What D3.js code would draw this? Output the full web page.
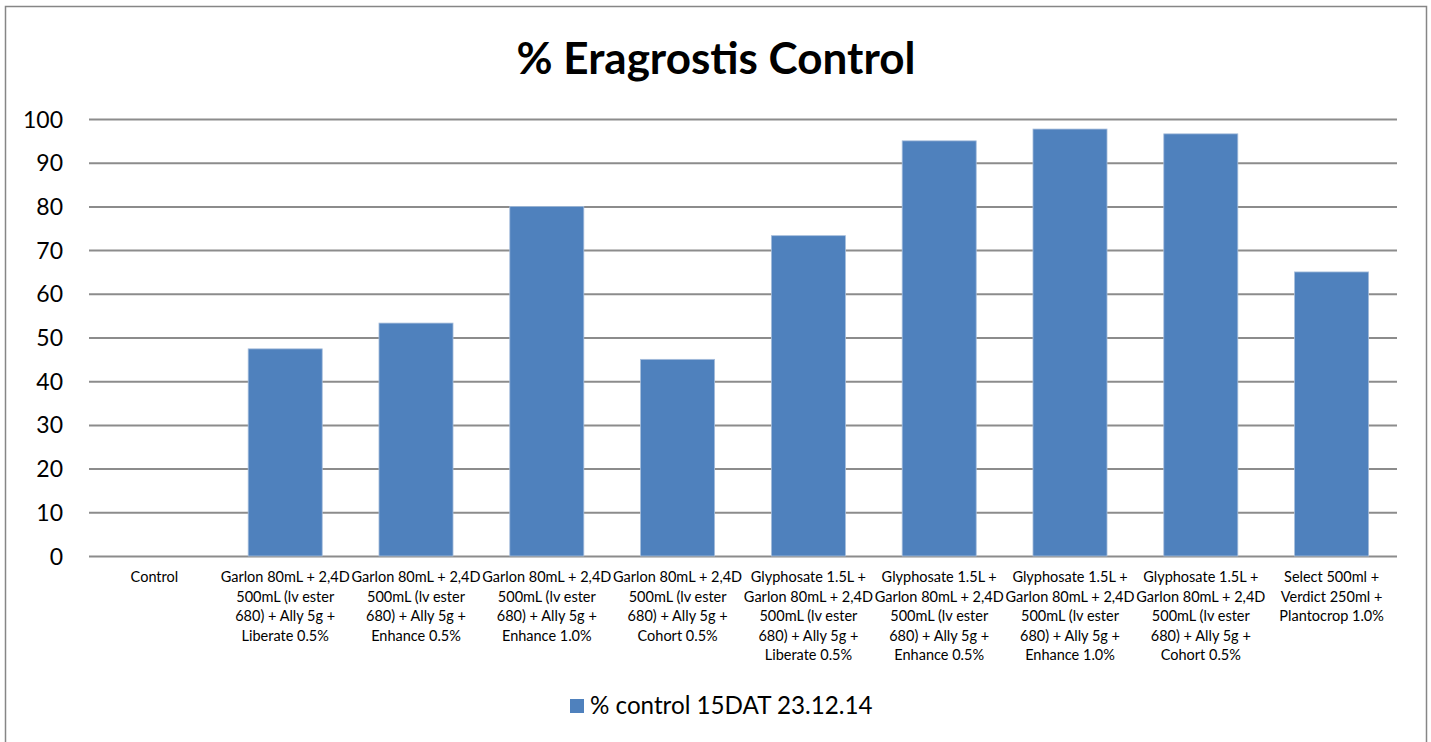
<!DOCTYPE html>
<html>
<head>
<meta charset="utf-8">
<script src="https://cdn.jsdelivr.net/npm/d3@7"></script>
<style>
body { margin: 0; background: #fff; }
text { font-family: Lato, "Open Sans", sans-serif; fill: #000; }
</style>
</head>
<body>
<div id="chart"></div>
<script>
var w = 1431, h = 742

// category labels, already broken into lines as in the original
var categories = [
	["Control"],
	["Garlon 80mL + 2,4D", "500mL (lv ester", "680) + Ally 5g +", "Liberate 0.5%"],
	["Garlon 80mL + 2,4D", "500mL (lv ester", "680) + Ally 5g +", "Enhance 0.5%"],
	["Garlon 80mL + 2,4D", "500mL (lv ester", "680) + Ally 5g +", "Enhance 1.0%"],
	["Garlon 80mL + 2,4D", "500mL (lv ester", "680) + Ally 5g +", "Cohort 0.5%"],
	["Glyphosate 1.5L +", "Garlon 80mL + 2,4D", "500mL (lv ester", "680) + Ally 5g +", "Liberate 0.5%"],
	["Glyphosate 1.5L +", "Garlon 80mL + 2,4D", "500mL (lv ester", "680) + Ally 5g +", "Enhance 0.5%"],
	["Glyphosate 1.5L +", "Garlon 80mL + 2,4D", "500mL (lv ester", "680) + Ally 5g +", "Enhance 1.0%"],
	["Glyphosate 1.5L +", "Garlon 80mL + 2,4D", "500mL (lv ester", "680) + Ally 5g +", "Cohort 0.5%"],
	["Select 500ml +", "Verdict 250ml +", "Plantocrop 1.0%"]
]
var values = [0, 47.4, 53.3, 80, 45, 73.3, 95, 97.7, 96.6, 65]
var yTicks = [0, 10, 20, 30, 40, 50, 60, 70, 80, 90, 100]
var seriesName = "% control 15DAT 23.12.14"
var title = "% Eragrostis Control"

var svg = d3.select("#chart")
	.append("svg")
	.attr("width", w)
	.attr("height", h)

// outer chart frame
svg.append("rect")
	.attr("x", 5.5).attr("y", 6.5)
	.attr("width", 1421).attr("height", 760)
	.style("fill", "none")
	.style("stroke", "#868686")
	.style("stroke-width", 1.5)

var plot = {l: 89, r: 1397, t: 119, b: 556}

var x = d3.scaleBand()
	.domain(d3.range(categories.length))
	.range([plot.l, plot.r])
	.paddingInner(0.434)
	.paddingOuter(0.217)

var y = d3.scaleLinear()
	.domain([0, 100])
	.range([plot.b, plot.t])

// gridlines + labels
var yAxis = d3.axisLeft(y)
	.tickValues(yTicks)
	.tickSize(-(plot.r - plot.l))
	.tickPadding(26)

var yG = svg.append("g")
	.attr("transform", "translate(" + plot.l + ",0)")
	.call(yAxis)

yG.select(".domain").remove()
yG.selectAll(".tick line")
	.style("stroke", "#8c8c8c")
	.style("stroke-width", 2)
yG.selectAll(".tick text")
	.style("font-size", "23px")
	.style("font-family", "Lato, sans-serif")
	.attr("dy", "0.35em")

// bars
svg.append("g")
	.selectAll("rect")
	.data(values)
	.enter()
	.append("rect")
	.attr("x", function(d, i) {return x(i)})
	.attr("width", x.bandwidth())
	.attr("y", function(d) {return y(d)})
	.attr("height", function(d) {return y(0) - y(d)})
	.style("fill", "#4f81bd")
	.style("stroke", "#a6bddb")
	.style("stroke-width", 0.8)

// category labels
var catG = svg.append("g")
	.selectAll("text")
	.data(categories)
	.enter()
	.append("text")
	.attr("text-anchor", "middle")
	.style("font-size", "14.5px")
	.attr("transform", function(d, i) {return "translate(" + (x(i) + x.bandwidth() / 2) + ",582)"})

catG.selectAll("tspan")
	.data(function(d) {return d})
	.enter()
	.append("tspan")
	.attr("x", 0)
	.attr("y", function(d, j) {return j * 19.6})
	.text(function(d) {return d})

// title
svg.append("text")
	.attr("x", 716)
	.attr("y", 74)
	.attr("text-anchor", "middle")
	.style("font-size", "44px")
	.style("font-weight", "bold")
	.text(title)

// legend
svg.append("rect")
	.attr("x", 570).attr("y", 699)
	.attr("width", 14).attr("height", 14)
	.style("fill", "#4f81bd")

svg.append("text")
	.attr("x", 590)
	.attr("y", 714)
	.style("font-size", "24.2px")
	.text(seriesName)
</script>
</body>
</html>
